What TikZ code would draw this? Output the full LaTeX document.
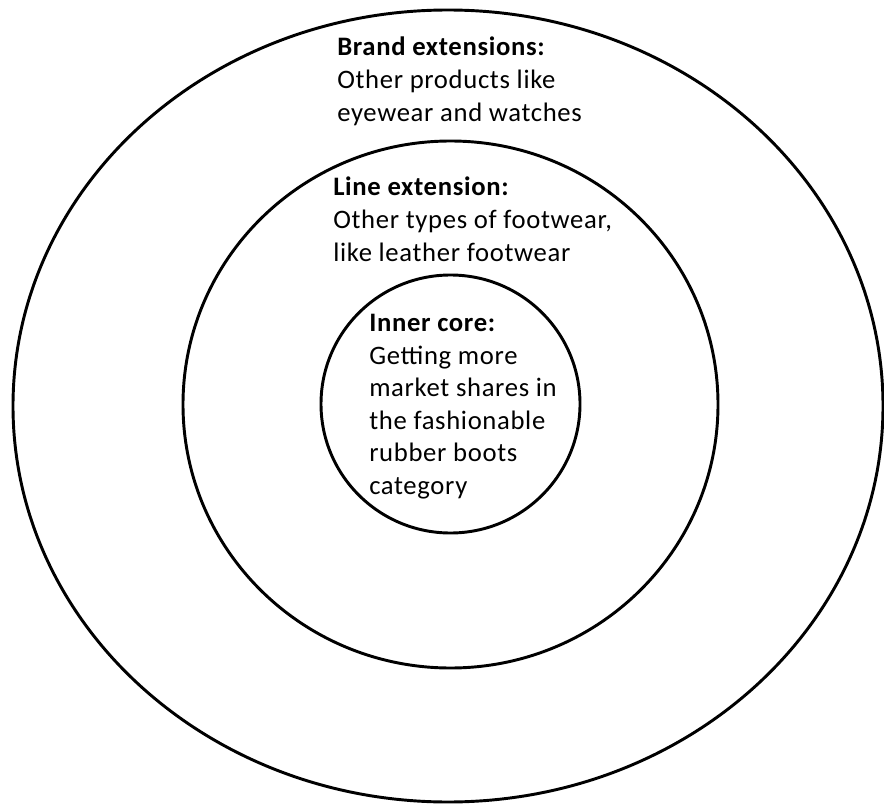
\documentclass[tikz,border=0pt]{standalone}
\usepackage{fontspec}
\setmainfont{Carlito}[LetterSpace=2.5]
\usepackage{tikz}

\tikzset{
  ring/.style={line width=2.2pt},
  ringtext/.style={anchor=north west, inner sep=0pt, align=left, font=\fontsize{20}{24.4}\selectfont}
}

\begin{document}
\begin{tikzpicture}[x=0.75pt,y=0.75pt,yscale=-1,xscale=1]
\useasboundingbox (0,0) rectangle (884,805);

%Shape: Ellipse - brand extensions
\draw [ring] (448,406) ellipse (435 and 396);
%Shape: Ellipse - line extension
\draw [ring] (450.5,404.5) ellipse (267.5 and 263.5);
%Shape: Circle - inner core
\draw [ring] (450.5,404) ellipse (129.5 and 129);

% Text Node
\node [ringtext] (brand) at (337,37) {\textbf{Brand extensions:}\\Other products like\\eyewear and watches};
% Text Node
\node [ringtext] (line) at (333,177) {\textbf{Line extension:}\\Other types of footwear,\\like leather footwear};
% Text Node
\node [ringtext] (core) at (369,314) {\textbf{Inner core:}\\Getting more\\market shares in\\the fashionable\\rubber boots\\category};

\end{tikzpicture}
\end{document}
